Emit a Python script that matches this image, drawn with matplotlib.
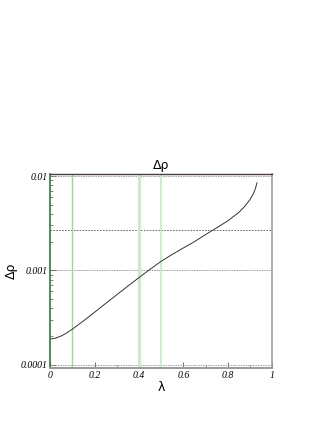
import matplotlib
matplotlib.use('Agg')
import matplotlib.pyplot as plt
from matplotlib.ticker import FixedLocator, NullFormatter, LogLocator

# Curve
lam = [0.0, 0.025, 0.05, 0.075, 0.1, 0.15, 0.2, 0.25, 0.3, 0.35, 0.4, 0.45,
       0.5, 0.55, 0.6, 0.65, 0.7, 0.75, 0.8, 0.85, 0.875, 0.9, 0.915,
       0.925, 0.932]
drho = [1.871e-4, 1.914e-4, 2.018e-4, 2.178e-4, 2.388e-4, 2.917e-4,
        3.606e-4, 4.467e-4, 5.521e-4, 6.823e-4, 8.395e-4, 1.028e-3,
        1.250e-3, 1.479e-3, 1.730e-3, 2.018e-3, 2.399e-3, 2.831e-3,
        3.350e-3, 4.121e-3, 4.732e-3, 5.623e-3, 6.457e-3, 7.413e-3,
        8.511e-3]

# reference lines
hlines = [1e-2, 2.7e-3, 1e-3, 1e-4]
vlines = [0.1, 0.4, 0.5]

xticks = [0, 0.2, 0.4, 0.6, 0.8, 1]
xticklabels = ['0', '0.2', '0.4', '0.6', '0.8', '1']
yticks = [1e-4, 1e-3, 1e-2]
yticklabels = ['0.0001', '0.001', '0.01']

fig = plt.figure(figsize=(3.32, 4.30), dpi=100)
ax = fig.add_axes([0.1515, 0.144, 0.668, 0.451])

# horizontal dashed lines
ax.axhline(hlines[0], color='#999999', lw=0.6, ls=(0, (2, 1)))
ax.axhline(hlines[1], color='#555555', lw=0.6, ls=(0, (2, 1.5)))
ax.axhline(hlines[2], color='#777777', lw=0.6, ls=(0, (1, 1)))
ax.axhline(hlines[3], color='#999999', lw=0.6, ls=(0, (2, 1)))

# vertical green lines
ax.axvline(vlines[0], color='#90e090', lw=1.0)
ax.axvline(vlines[1], color='#c4ecc4', lw=2.0)
ax.axvline(vlines[2], color='#c4ecc4', lw=1.2)

ax.plot(lam, drho, color='#333333', lw=0.7)

ax.set_yscale('log')
ax.set_xlim(0, 1)
ax.set_ylim(9.2e-5, 1.05e-2)

serif = {'family': 'Liberation Serif', 'style': 'italic', 'size': 7}
ax.set_xticks(xticks)
ax.set_xticklabels(xticklabels, fontdict=serif)
ax.xaxis.set_minor_locator(FixedLocator([0.1, 0.3, 0.5, 0.7, 0.9]))
ax.set_yticks(yticks)
ax.set_yticklabels(yticklabels, fontdict=serif)
ax.yaxis.set_minor_locator(LogLocator(base=10, subs=range(2, 10)))
ax.yaxis.set_minor_formatter(NullFormatter())

ax.tick_params(which='both', direction='in', color='#555555', pad=2)
ax.tick_params(axis='y', which='major', length=4, width=0.6)
ax.tick_params(axis='y', which='minor', length=2.5, width=0.5)
ax.tick_params(axis='x', which='major', length=4, width=0.6)
ax.tick_params(axis='x', which='minor', length=2.5, width=0.5)

ax.spines['left'].set_color('#2e7d32')
ax.spines['left'].set_linewidth(1.2)
ax.spines['top'].set_color('#4a3c3c')
ax.spines['top'].set_linewidth(1.0)
ax.spines['right'].set_color('#a89a9a')
ax.spines['right'].set_linewidth(1.2)
ax.spines['bottom'].set_color('#999999')
ax.spines['bottom'].set_linewidth(1.4)

ax.set_title('Δρ', fontsize=9, pad=4)
ax.set_xlabel('λ', fontsize=9, labelpad=1)
ax.set_ylabel('Δρ', fontsize=9, labelpad=2)

fig.savefig('out.png', dpi=100)
